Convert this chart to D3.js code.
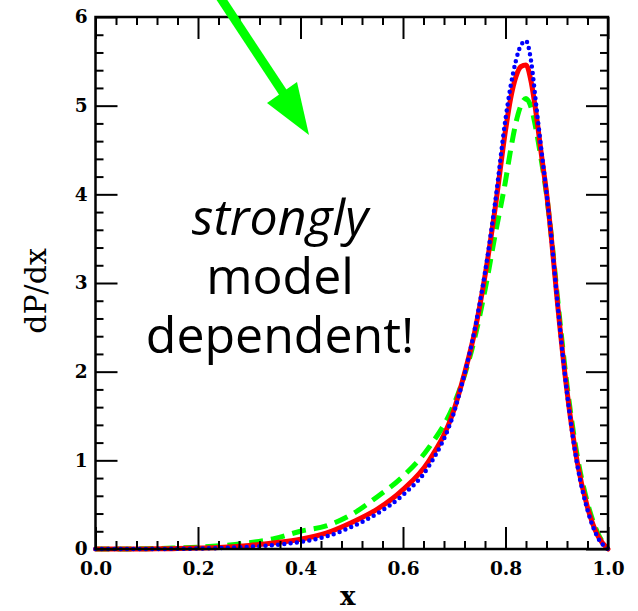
<!DOCTYPE html>
<html lang="en">
<head>
    <meta charset="UTF-8">
    <title>dP/dx</title>
    <script src="https://d3js.org/d3.v7.min.js"></script>
    <style>
        body { margin: 0; background: #fff; }
        svg { display: block; }
        .domain { display: none; }
        .note { font-family: "Open Sans", sans-serif; font-size: 50px; fill: #000; }
    </style>
</head>
<body>
<div id="container"></div>
<script>
    const xs = [0, 0.05, 0.1, 0.15, 0.2, 0.25, 0.3, 0.35, 0.4, 0.45, 0.5, 0.55, 0.6, 0.65, 0.7,
        0.72, 0.74, 0.76, 0.78, 0.8, 0.81, 0.82, 0.83, 0.84, 0.85, 0.86, 0.87, 0.88, 0.89, 0.9,
        0.92, 0.94, 0.96, 0.98, 1.0];

    // red solid
    const redVals = [0, 0, 0.001, 0.004, 0.01, 0.02, 0.04, 0.07, 0.11, 0.18, 0.30, 0.45, 0.67, 0.99, 1.58,
        1.98, 2.45, 3.08, 3.85, 4.72, 5.08, 5.32, 5.44, 5.46, 5.27, 4.9, 4.45, 4.02, 3.48, 2.86,
        1.78, 0.98, 0.47, 0.15, 0];

    // blue dotted
    const blueVals = [0, 0, 0, 0.002, 0.005, 0.012, 0.025, 0.045, 0.08, 0.14, 0.25, 0.40, 0.61, 0.93, 1.55,
        1.97, 2.48, 3.12, 3.92, 4.85, 5.22, 5.5, 5.68, 5.73, 5.5, 5.0, 4.5, 4.02, 3.48, 2.86,
        1.76, 0.95, 0.44, 0.13, 0];

    // green dashed
    const greenVals = [0, 0, 0.003, 0.01, 0.02, 0.04, 0.07, 0.12, 0.2, 0.26, 0.39, 0.59, 0.82, 1.14, 1.64,
        1.96, 2.38, 2.92, 3.55, 4.15, 4.5, 4.8, 5.0, 5.08, 4.98, 4.72, 4.38, 4.0, 3.5, 2.92,
        1.85, 1.05, 0.52, 0.18, 0];

    const xTicks = [0, 0.2, 0.4, 0.6, 0.8, 1.0];
    const yTicks = [0, 1, 2, 3, 4, 5, 6];
    const noteLines = ['strongly', 'model', 'dependent!'];

    const width = 638, height = 611;
    const plotLeft = 95.5, plotRight = 608, plotTop = 17, plotBottom = 549;

    const svg = d3.select('#container').append('svg')
        .attr('width', width)
        .attr('height', height);

    const x = d3.scaleLinear().domain([0, 1]).range([plotLeft, plotRight]);
    const y = d3.scaleLinear().domain([0, 6]).range([plotBottom, plotTop]);

    const xMinor = d3.range(0, 1.0001, 0.04).filter(v => Math.abs(v * 5 - Math.round(v * 5)) > 1e-6);
    const yMinor = d3.range(0, 6.0001, 0.2).filter(v => Math.abs(v - Math.round(v)) > 1e-6);

    // curves
    const line = d3.line()
        .x(d => x(d[0]))
        .y(d => y(d[1]))
        .curve(d3.curveMonotoneX);

    const series = [
        {vals: greenVals, color: '#00ff00', w: 5, dash: '14 8', cap: 'butt'},
        {vals: redVals, color: '#ff0000', w: 5, dash: null, cap: 'round'},
        {vals: blueVals, color: '#0000ff', w: 4.5, dash: '0 6.3', cap: 'round'}
    ];

    svg.selectAll('.curve')
        .data(series)
        .enter()
        .append('path')
        .attr('class', 'curve')
        .attr('d', s => line(xs.map((v, i) => [v, s.vals[i]])))
        .attr('fill', 'none')
        .attr('stroke', s => s.color)
        .attr('stroke-width', s => s.w)
        .attr('stroke-linecap', s => s.cap)
        .attr('stroke-dasharray', s => s.dash);

    // ticks on all four sides, pointing inward
    function styleTicks(g) {
        g.attr('font-family', '"DejaVu Serif", serif')
            .attr('font-size', 18.5)
            .attr('font-weight', 'bold');
        g.selectAll('line').attr('stroke', '#000').attr('stroke-width', 2);
        g.selectAll('text').attr('fill', '#000');
    }

    svg.append('g')
        .attr('transform', `translate(0,${plotBottom})`)
        .call(d3.axisBottom(x).tickValues(xTicks).tickSize(-22).tickPadding(13).tickFormat(d3.format('.1f')))
        .call(styleTicks);
    svg.append('g')
        .attr('transform', `translate(0,${plotBottom})`)
        .call(d3.axisBottom(x).tickValues(xMinor).tickSize(-8).tickFormat(''))
        .call(styleTicks);
    svg.append('g')
        .attr('transform', `translate(0,${plotTop})`)
        .call(d3.axisTop(x).tickValues(xTicks).tickSize(-22).tickFormat(''))
        .call(styleTicks);
    svg.append('g')
        .attr('transform', `translate(0,${plotTop})`)
        .call(d3.axisTop(x).tickValues(xMinor).tickSize(-8).tickFormat(''))
        .call(styleTicks);

    svg.append('g')
        .attr('transform', `translate(${plotLeft},0)`)
        .call(d3.axisLeft(y).tickValues(yTicks).tickSize(-22).tickPadding(8).tickFormat(d3.format('d')))
        .call(styleTicks);
    svg.append('g')
        .attr('transform', `translate(${plotLeft},0)`)
        .call(d3.axisLeft(y).tickValues(yMinor).tickSize(-8).tickFormat(''))
        .call(styleTicks);
    svg.append('g')
        .attr('transform', `translate(${plotRight},0)`)
        .call(d3.axisRight(y).tickValues(yTicks).tickSize(-22).tickFormat(''))
        .call(styleTicks);
    svg.append('g')
        .attr('transform', `translate(${plotRight},0)`)
        .call(d3.axisRight(y).tickValues(yMinor).tickSize(-8).tickFormat(''))
        .call(styleTicks);

    // frame
    svg.append('rect')
        .attr('x', plotLeft)
        .attr('y', plotTop)
        .attr('width', plotRight - plotLeft)
        .attr('height', plotBottom - plotTop)
        .attr('fill', 'none')
        .attr('stroke', '#000')
        .attr('stroke-width', 2.5);

    // axis titles
    svg.append('text')
        .attr('x', (plotLeft + plotRight) / 2 - 4)
        .attr('y', 605)
        .attr('text-anchor', 'middle')
        .style('font-family', '"DejaVu Serif", serif')
        .style('font-size', '26px')
        .style('font-weight', 'bold')
        .text('x');

    svg.append('text')
        .attr('transform', 'translate(46,291) rotate(-90)')
        .attr('text-anchor', 'middle')
        .style('font-family', '"DejaVu Serif", serif')
        .style('font-size', '30px')
        .text('dP/dx');

    // annotation
    svg.selectAll('.note')
        .data(noteLines)
        .enter()
        .append('text')
        .attr('class', 'note')
        .attr('x', 280)
        .attr('y', (d, i) => 235 + i * 59)
        .attr('text-anchor', 'middle')
        .style('font-style', (d, i) => i === 0 ? 'italic' : 'normal')
        .text(d => d);

    // green arrow
    svg.append('line')
        .attr('x1', 218).attr('y1', -6)
        .attr('x2', 284).attr('y2', 94)
        .attr('stroke', '#00ff00')
        .attr('stroke-width', 9);
    svg.append('path')
        .attr('d', 'M267,103 L297,82 L309,135 Z')
        .attr('fill', '#00ff00');
</script>
</body>
</html>
